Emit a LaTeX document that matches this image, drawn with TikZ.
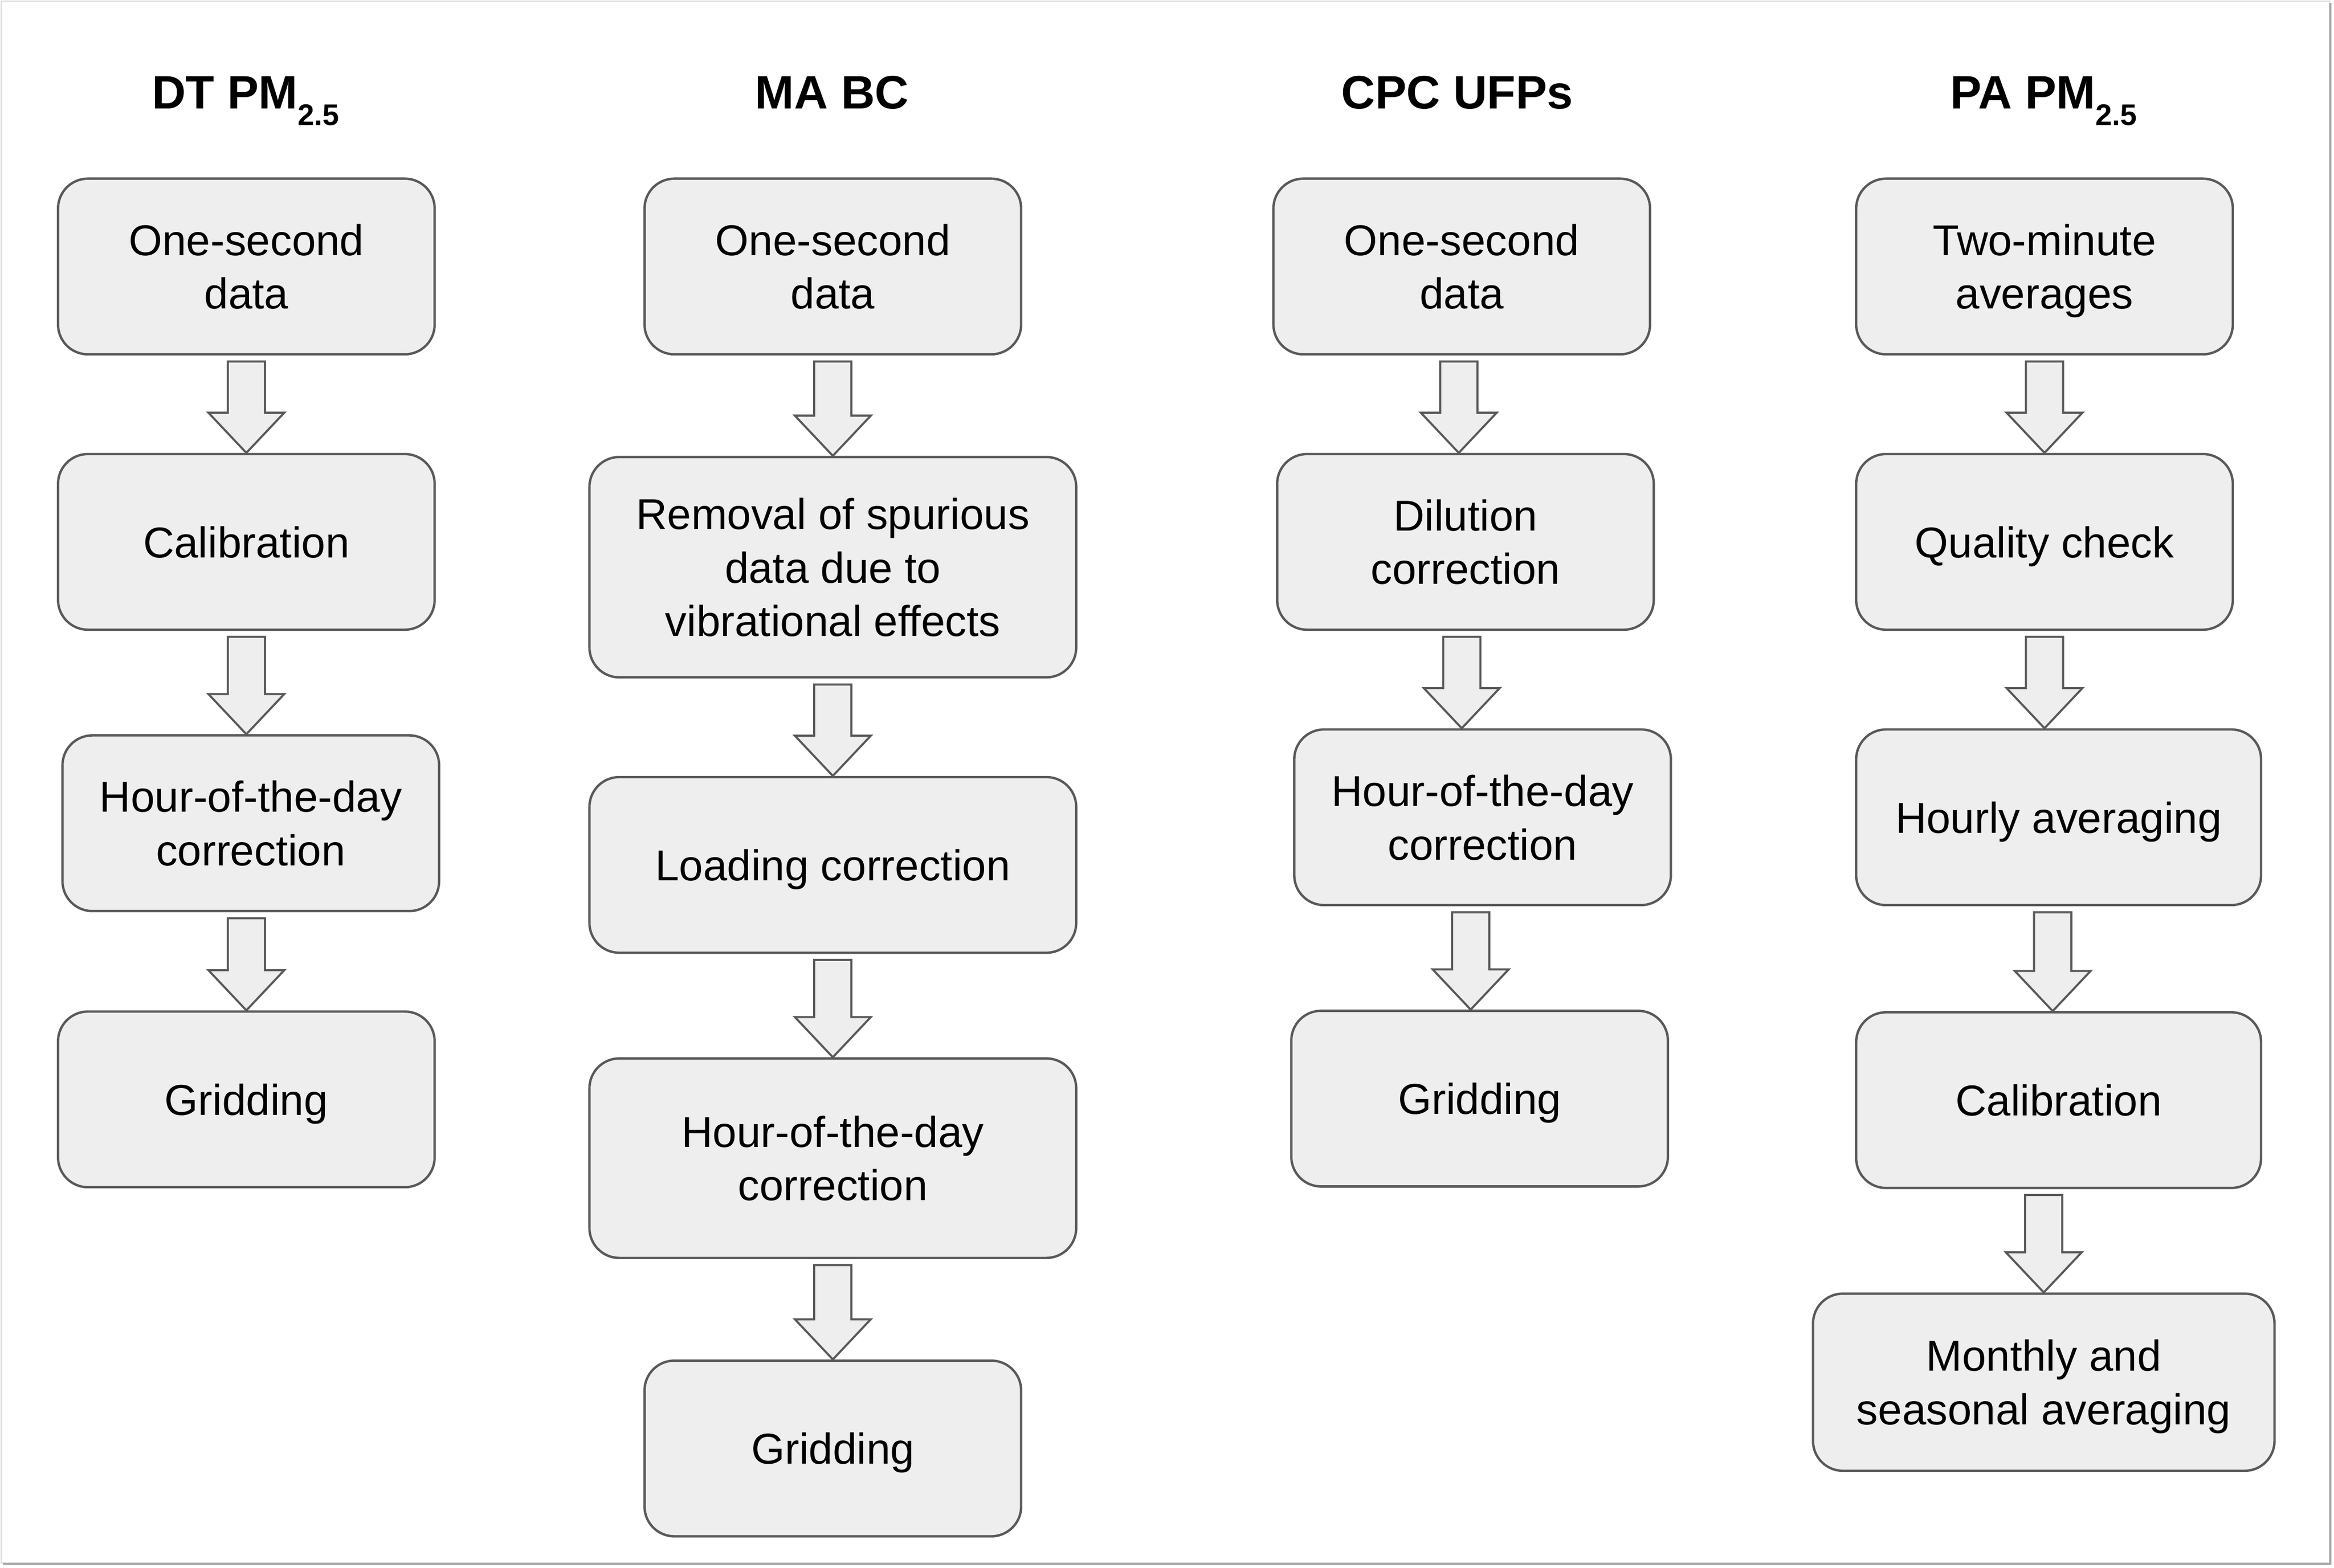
\documentclass[tikz,border=0pt]{standalone}
\usepackage{fontspec}
\setmainfont{Liberation Sans}
\usepackage{tikz}
\usetikzlibrary{calc}

\definecolor{boxfill}{HTML}{EEEEEE}
\definecolor{boxline}{HTML}{595959}

\newcommand{\pmsub}{\raisebox{-11pt}{\fontsize{20}{20}\selectfont 2.5}}

\tikzset{
	stage/.style={draw=boxline,fill=boxfill,line width=1.6pt,rounded corners=20pt,
		align=center,minimum width=253pt,minimum height=118pt,inner sep=0pt,
		text depth=0pt,font=\fontsize{29}{36}\selectfont},
	head/.style={anchor=base,font=\bfseries\fontsize{31.5}{36}\selectfont},
	blockarrow/.style={draw=boxline,fill=boxfill,line width=1.4pt,line join=miter}
}

% block arrow from the bottom of one stage to the top of the next
\newcommand{\flow}[3][0pt]{%
	\draw[blockarrow] let \p1=($(#2.south)+(#1,0)$), \p2=(#3.north) in
		(\x1-12.5pt,\y1-4pt) -- (\x1+12.5pt,\y1-4pt) -- (\x1+12.5pt,\y2+27pt)
		-- (\x1+25.5pt,\y2+27pt) -- (\x1,\y2) -- (\x1-25.5pt,\y2+27pt)
		-- (\x1-12.5pt,\y2+27pt) -- cycle;}

\begin{document}
\begin{tikzpicture}[x=1pt,y=-1pt]
		\useasboundingbox (0,0) rectangle (1568,1053);
		\draw[gray!25,line width=1pt] (1,1) rectangle (1565,1050);
		\draw[gray!70,line width=1.6pt] (1565.5,2) -- (1565.5,1050.5) -- (2,1050.5);
		% titles
		\node[head] (tDT) at (165,73) {DT PM\pmsub};
		\node[head] (tMA) at (559,73) {MA BC};
		\node[head] (tCPC) at (979,73) {CPC UFPs};
		\node[head] (tPA) at (1373,73) {PA PM\pmsub};
		% DT PM2.5
		\node[stage] (dt1) at (165.5,179) {One-second\\data};
		\node[stage] (dt2) at (165.5,364) {Calibration};
		\node[stage] (dt3) at (168.5,553) {Hour-of-the-day\\correction};
		\node[stage] (dt4) at (165.5,738.5) {Gridding};
		% MA BC
		\node[stage] (ma1) at (559.5,179) {One-second\\data};
		\node[stage,minimum width=327pt,minimum height=148pt] (ma2) at (559.5,381) {Removal of spurious\\data due to\\vibrational effects};
		\node[stage,minimum width=327pt] (ma3) at (559.5,581) {Loading correction};
		\node[stage,minimum width=327pt,minimum height=134pt] (ma4) at (559.5,778) {Hour-of-the-day\\correction};
		\node[stage] (ma5) at (559.5,973) {Gridding};
		% CPC UFPs
		\node[stage] (cpc1) at (982,179) {One-second\\data};
		\node[stage] (cpc2) at (984.5,364) {Dilution\\correction};
		\node[stage] (cpc3) at (996,549) {Hour-of-the-day\\correction};
		\node[stage] (cpc4) at (994,738) {Gridding};
		% PA PM2.5
		\node[stage] (pa1) at (1373.5,179) {Two-minute\\averages};
		\node[stage] (pa2) at (1373.5,364) {Quality check};
		\node[stage,minimum width=272pt] (pa3) at (1383,549) {Hourly averaging};
		\node[stage,minimum width=272pt] (pa4) at (1383,739) {Calibration};
		\node[stage,minimum width=310pt,minimum height=119pt] (pa5) at (1373,928.5) {Monthly and\\seasonal averaging};
		% arrows
		\flow{dt1}{dt2}
		\flow{dt2}{dt3}
		\flow[-3pt]{dt3}{dt4}
		\flow{ma1}{ma2}
		\flow{ma2}{ma3}
		\flow{ma3}{ma4}
		\flow{ma4}{ma5}
		\flow[-2pt]{cpc1}{cpc2}
		\flow[-2.5pt]{cpc2}{cpc3}
		\flow[-8pt]{cpc3}{cpc4}
		\flow{pa1}{pa2}
		\flow{pa2}{pa3}
		\flow[-4pt]{pa3}{pa4}
		\flow[-10pt]{pa4}{pa5}
	\end{tikzpicture}
\end{document}
